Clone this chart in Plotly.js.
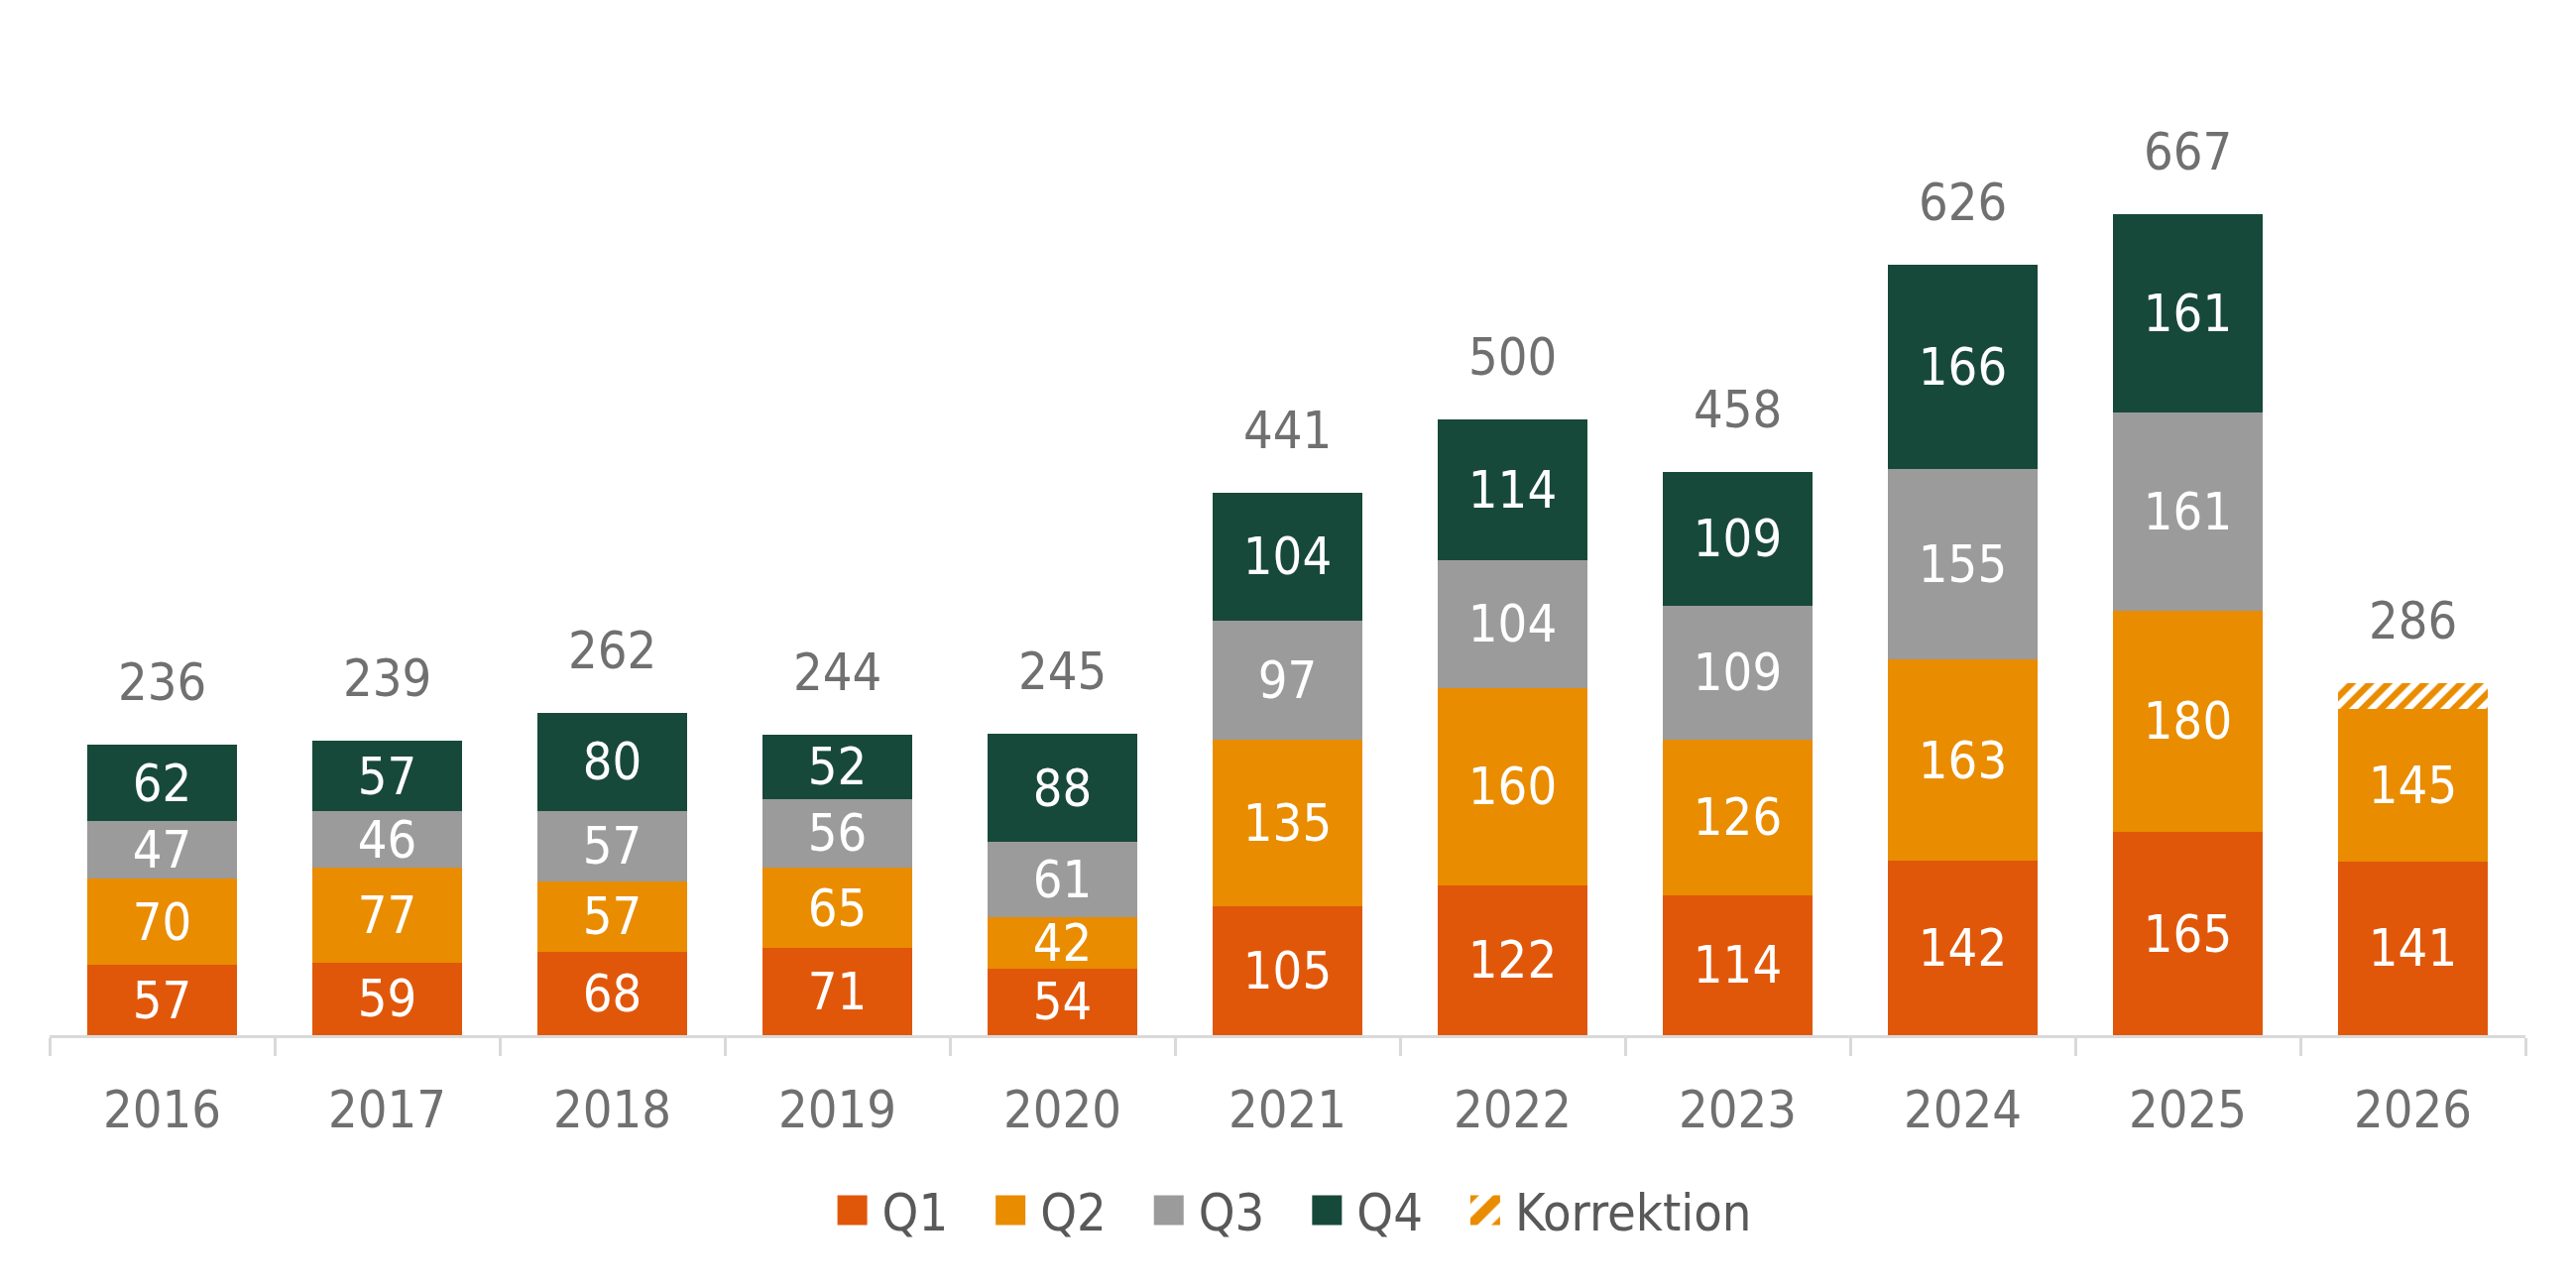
<!DOCTYPE html>
<html>
<head>
<meta charset="utf-8">
<script src="https://cdn.plot.ly/plotly-3.0.1.min.js"></script>
<style>
  html, body { margin: 0; padding: 0; background: #fff; }
  #chart { width: 2598px; height: 1299px; }
</style>
</head>
<body>
<div id="chart"></div>
<script>
const years = ['2016', '2017', '2018', '2019', '2020', '2021', '2022', '2023', '2024', '2025', '2026'];
const q1 = [57, 59, 68, 71, 54, 105, 122, 114, 142, 165, 141];
const q2 = [70, 77, 57, 65, 42, 135, 160, 126, 163, 180, 145];
const q3 = [47, 46, 57, 56, 61, 97, 104, 109, 155, 161, null];
const q4 = [62, 57, 80, 52, 88, 104, 114, 109, 166, 161, null];
// part of Q2 that is a correction, drawn hatched on top of the stack
const korrektion = [null, null, null, null, null, null, null, null, null, null, 21];

const colors = { q1: '#E1570A', q2: '#E98C00', q3: '#9B9B9B', q4: '#17493A' };
const font = '"DejaVu Sans Condensed", "DejaVu Sans", sans-serif';

const q2Solid = q2.map((v, i) => v - (korrektion[i] || 0));
const totals = years.map((y, i) => (q1[i] || 0) + (q2[i] || 0) + (q3[i] || 0) + (q4[i] || 0));

function quarter(name, vals, labels, color) {
  return {
    type: 'bar',
    name: name,
    x: years,
    y: vals,
    marker: { color: color },
    text: labels.map(v => v == null ? '' : String(v)),
    textposition: 'inside',
    insidetextanchor: 'middle',
    textangle: 0,
    constraintext: 'none',
    textfont: { color: '#ffffff', size: 52, family: font },
    hoverinfo: 'x+y+name'
  };
}

const traces = [
  quarter('Q1', q1, q1, colors.q1),
  quarter('Q2', q2Solid, q2, colors.q2),
  quarter('Q3', q3, q3, colors.q3),
  quarter('Q4', q4, q4, colors.q4),
  {
    type: 'bar',
    name: 'Korrektion',
    x: years,
    y: korrektion,
    marker: {
      color: '#ffffff',
      pattern: { shape: '/', fgcolor: colors.q2, bgcolor: '#ffffff', size: 13, solidity: 0.5 }
    },
    hoverinfo: 'x+y+name'
  }
];

// category axis: annotation x is the category index
const annotations = years.map((y, i) => ({
  x: i,
  y: totals[i],
  text: String(totals[i]),
  showarrow: false,
  yanchor: 'middle',
  yshift: 63,
  font: { size: 52, color: '#707070', family: font }
}));

const layout = {
  width: 2598,
  height: 1299,
  margin: { l: 50, r: 51, t: 51, b: 255 },
  paper_bgcolor: '#ffffff',
  plot_bgcolor: '#ffffff',
  barmode: 'stack',
  bargap: 0.335,
  font: { family: font, color: '#707070', size: 52 },
  xaxis: {
    type: 'category',
    range: [-0.5, 10.5],
    autorange: false,
    showline: true,
    linecolor: '#d9d9d9',
    linewidth: 3,
    ticks: 'outside',
    tickson: 'boundaries',
    ticklen: 18,
    tickwidth: 3,
    tickcolor: '#d9d9d9',
    showgrid: false,
    tickangle: 0,
    ticklabelstandoff: 28,
    tickfont: { size: 52, color: '#707070', family: font }
  },
  yaxis: {
    range: [0, 800],
    autorange: false,
    visible: false,
    showgrid: false,
    zeroline: false
  },
  showlegend: true,
  legend: {
    orientation: 'h',
    x: 0.301,
    xanchor: 'left',
    y: -0.178,
    yanchor: 'middle',
    traceorder: 'normal',
    font: { size: 52, color: '#595959', family: font },
    itemwidth: 78
  },
  annotations: annotations
};

Plotly.newPlot('chart', traces, layout, { displayModeBar: false, staticPlot: true }).then(gd => {
  // bigger legend squares sitting just left of their text, like the original
  gd.querySelectorAll('.legend .traces').forEach(item => {
    const txt = item.querySelector('text.legendtext');
    const pt = item.querySelector('.legendpoints path');
    if (!txt || !pt) return;
    const tb = txt.getBoundingClientRect();
    const pb = pt.getBoundingClientRect();
    const cx = pb.left + pb.width / 2;
    const dx = (tb.left - 30) - cx;
    const old = pt.getAttribute('transform') || '';
    pt.setAttribute('transform', old + ' translate(' + dx + ',0) scale(2.5)');
  });
});
</script>
</body>
</html>
